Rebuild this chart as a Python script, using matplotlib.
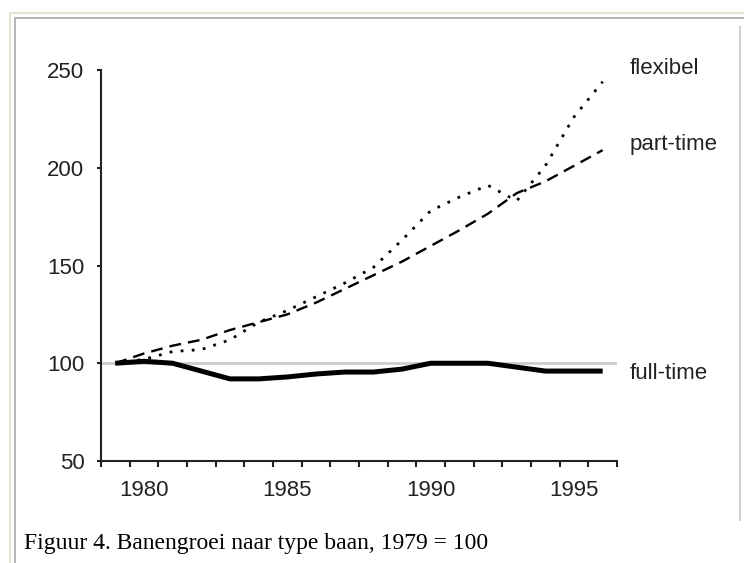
import numpy as np
import matplotlib
matplotlib.use('Agg')
import matplotlib.pyplot as plt
from matplotlib.lines import Line2D
from matplotlib.ticker import MultipleLocator, FixedLocator

matplotlib.rcParams['font.family'] = 'Liberation Sans'

years = list(range(1979, 1997))
full_time = [100, 101, 100, 96, 92, 92, 93, 94.5, 95.5, 95.5, 97, 100, 100, 100, 98, 96, 96, 96]
part_time = [100, 105, 109, 112, 117, 121, 125, 131, 138, 145, 152, 160, 168, 176.5, 187, 193, 201, 209]
flexibel = [100, 102, 106, 107, 112, 121, 127, 134, 141, 149, 163, 178, 185, 191, 183, 201, 226, 244]
series_labels = ['flexibel', 'part-time', 'full-time']
year_labels = [1980, 1985, 1990, 1995]
y_ticks = [50, 100, 150, 200, 250]
caption = 'Figuur 4. Banengroei naar type baan, 1979 = 100'

W, H = 744, 563
fig = plt.figure(figsize=(W / 100, H / 100), dpi=100)
fig.patch.set_facecolor('white')

# frame lines round the picture
for xs, ys, col, lw in [
	((10, 10, 744), (563, 13, 13), '#e6e2d4', 1.5),
	((15, 15, 744), (563, 18, 18), '#a8a8a8', 1.2),
	((740, 740), (27, 520), '#d0d0d0', 1.5),
]:
	fx = [x / W for x in xs]
	fy = [1 - y / H for y in ys]
	fig.add_artist(Line2D(fx, fy, color=col, lw=lw, transform=fig.transFigure))

ax = fig.add_axes([101 / W, 1 - 461 / H, (617 - 101) / W, (461 - 70) / H])

ax.axhline(100, color='#cccccc', lw=2, zorder=1)
ax.plot(years, flexibel, color='black', lw=2, linestyle=(0, (1, 3)), zorder=3)
ax.plot(years, part_time, color='black', lw=1.7, linestyle=(0, (5, 3)), zorder=3)
ax.plot(years, full_time, color='black', lw=3.6, solid_capstyle='butt', zorder=4)

ax.set_xlim(1978.5, 1996.5)
ax.set_ylim(50, 250)

ax.spines['top'].set_visible(False)
ax.spines['right'].set_visible(False)
ax.spines['left'].set_color('#222222')
ax.spines['bottom'].set_color('#222222')
ax.spines['left'].set_linewidth(1.5)
ax.spines['bottom'].set_linewidth(1.5)

ax.xaxis.set_major_locator(FixedLocator(year_labels))
ax.xaxis.set_minor_locator(MultipleLocator(1, offset=0.5))
ax.tick_params(axis='x', which='major', length=0, pad=14, labelsize=16, colors='#222222')
ax.tick_params(axis='x', which='minor', length=4, width=1.5, direction='out', color='#222222')

ax.set_yticks(y_ticks)
ax.tick_params(axis='y', which='major', length=3, width=1.5, direction='out', pad=9,
	labelsize=16, colors='#222222')

# series names at the right end
label_y = [251, 212, 95]
for name, yv in zip(series_labels, label_y):
	ax.text(1996.95, yv, name, fontsize=16, va='center', ha='left', color='#222222',
		clip_on=False)

fig.text(24 / W, 1 - 544 / H, caption, family='Liberation Serif', fontsize=17,
	va='center', ha='left', color='black')

fig.savefig('out.png', dpi=100)
